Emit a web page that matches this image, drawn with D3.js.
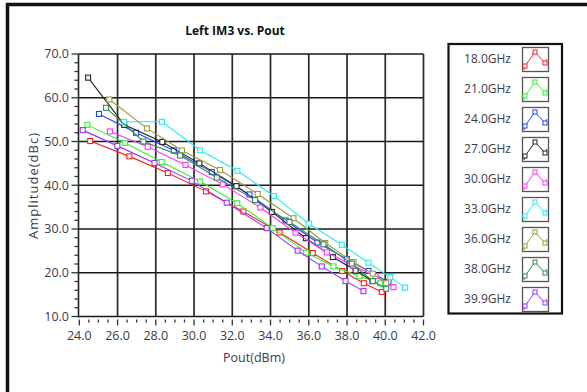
<!DOCTYPE html>
<html>
<head>
<meta charset="utf-8">
<script src="https://cdn.jsdelivr.net/npm/d3@7"></script>
<style>
  html, body { margin: 0; padding: 0; background: #fff; }
  svg { display: block; }
  text { font-family: "Open Sans", "Noto Sans", sans-serif; }
</style>
</head>
<body>
<div id="chart"></div>
<script>
// series labels + colours
const freqLabels = ['18.0GHz', '21.0GHz', '24.0GHz', '27.0GHz', '30.0GHz', '33.0GHz', '36.0GHz', '38.0GHz', '39.9GHz'];
const freqColors = ['#ff2020', '#33ee33', '#2244ff', '#222222', '#ff33ff', '#22eeee', '#9c9a3a', '#2e8b57', '#9933ff'];

// Pout (dBm) per series
const pout18 = [24.57, 26.62, 28.63, 30.63, 32.58, 34.47, 36.21, 37.75, 38.88, 39.82];
const pout21 = [24.42, 26.38, 28.31, 30.32, 32.26, 34.12, 35.86, 37.29, 38.65, 39.73];
const pout24 = [25.03, 26.97, 28.94, 30.93, 32.90, 34.79, 36.45, 37.99, 39.12, 40.17];
const pout27 = [24.46, 26.35, 28.34, 30.28, 32.22, 34.07, 35.85, 37.26, 38.45, 39.33];
const pout30 = [25.60, 27.58, 29.55, 31.50, 33.47, 35.31, 36.95, 38.30, 39.50, 40.43];
const pout33 = [26.33, 28.33, 30.32, 32.27, 34.19, 36.00, 37.73, 39.12, 40.26, 41.04];
const pout36 = [25.57, 27.54, 29.37, 31.36, 33.33, 35.20, 36.86, 38.34, 39.35, 40.05];
const pout38 = [25.40, 27.35, 29.27, 31.19, 33.19, 34.99, 36.77, 38.25, 39.35, 40.05];
const pout399 = [24.18, 25.99, 27.93, 29.88, 31.71, 33.80, 35.42, 36.68, 37.92, 38.86];

// Left IM3 amplitude (dBc) per series
const amp18 = [50.1, 46.6, 42.8, 38.6, 34.0, 29.2, 24.5, 20.4, 17.6, 15.6];
const amp21 = [53.8, 49.7, 45.3, 40.85, 35.9, 30.2, 24.6, 21.45, 19.2, 17.6];
const amp24 = [56.3, 52.0, 47.95, 43.0, 37.9, 31.95, 26.9, 23.1, 20.4, 17.9];
const amp27 = [64.6, 53.8, 49.9, 45.0, 39.8, 33.9, 27.9, 23.6, 20.5, 18.1];
const amp30 = [52.3, 48.8, 44.65, 40.2, 34.9, 29.15, 24.65, 21.65, 19.2, 16.7];
const amp33 = [54.5, 54.5, 48.0, 43.3, 37.5, 31.2, 26.4, 22.3, 19.0, 16.6];
const amp36 = [59.6, 53.0, 47.95, 43.5, 38.0, 32.45, 26.8, 22.45, 19.8, 17.6];
const amp38 = [57.7, 50.0, 46.8, 41.75, 36.6, 31.6, 26.5, 22.1, 18.1, 16.35];
const amp399 = [52.6, 49.0, 45.1, 41.0, 36.0, 30.2, 25.05, 21.45, 18.1, 15.8];

const poutSets = [pout18, pout21, pout24, pout27, pout30, pout33, pout36, pout38, pout399];
const ampSets = [amp18, amp21, amp24, amp27, amp30, amp33, amp36, amp38, amp399];

const xTicks = [24, 26, 28, 30, 32, 34, 36, 38, 40, 42];
const yTicks = [10, 20, 30, 40, 50, 60, 70];

const width = 587;
const height = 392;
const plot = { left: 78.5, right: 423.5, top: 54, bottom: 316.5 };
const textColor = '#3b3b48';

const svg = d3.select('#chart')
  .append('svg')
  .attr('width', width)
  .attr('height', height);

// outer frame (cut at right / bottom like the screenshot)
svg.append('rect')
  .attr('x', 7.5)
  .attr('y', 4.5)
  .attr('width', 640)
  .attr('height', 440)
  .style('fill', 'none')
  .style('stroke', '#111')
  .style('stroke-width', 3.5);

const x = d3.scaleLinear().domain([24, 42]).range([plot.left + 0.8, plot.right]);
const y = d3.scaleLinear().domain([10, 70]).range([plot.bottom, plot.top]);

// grid
const grid = svg.append('g').attr('class', 'grid');
grid.selectAll('.vline')
  .data(xTicks.slice(1))
  .enter()
  .append('line')
  .attr('x1', d => x(d))
  .attr('x2', d => x(d))
  .attr('y1', plot.top)
  .attr('y2', plot.bottom)
  .style('stroke', '#2a2a2a')
  .style('stroke-width', 1.7);

grid.selectAll('.hline')
  .data(yTicks)
  .enter()
  .append('line')
  .attr('x1', plot.left)
  .attr('x2', plot.right)
  .attr('y1', d => y(d))
  .attr('y2', d => y(d))
  .style('stroke', '#1a1a1a')
  .style('stroke-width', 1.7);

// plot left border
svg.append('line')
  .attr('x1', plot.left)
  .attr('x2', plot.left)
  .attr('y1', plot.top)
  .attr('y2', plot.bottom + 1)
  .style('stroke', '#222')
  .style('stroke-width', 1.6);

// y axis ticks
const yMinor = d3.range(10, 70.01, 2);
svg.selectAll('.ytick')
  .data(yMinor)
  .enter()
  .append('line')
  .attr('x1', d => (d % 10 === 0 ? plot.left - 7 : plot.left - 4))
  .attr('x2', plot.left)
  .attr('y1', d => y(d))
  .attr('y2', d => y(d))
  .style('stroke', '#333')
  .style('stroke-width', 1.3);

svg.selectAll('.ylabel')
  .data(yTicks)
  .enter()
  .append('text')
  .attr('x', plot.left - 9.5)
  .attr('y', d => y(d) + 4.3)
  .attr('text-anchor', 'end')
  .style('font-size', '12.5px')
  .style('fill', textColor)
  .text(d => d.toFixed(1));

// x axis ticks (detached just below the plot)
const xMinor = d3.range(24, 42.01, 0.5);
svg.selectAll('.xtick')
  .data(xMinor)
  .enter()
  .append('line')
  .attr('x1', d => x(d))
  .attr('x2', d => x(d))
  .attr('y1', plot.bottom + 3)
  .attr('y2', d => (d % 2 === 0 ? plot.bottom + 9 : plot.bottom + 6))
  .style('stroke', '#333')
  .style('stroke-width', 1.3);

svg.selectAll('.xlabel')
  .data(xTicks)
  .enter()
  .append('text')
  .attr('x', d => x(d))
  .attr('y', plot.bottom + 23.5)
  .attr('text-anchor', 'middle')
  .style('font-size', '12.5px')
  .style('fill', textColor)
  .text(d => d.toFixed(1));

// titles
svg.append('text')
  .attr('x', 235)
  .attr('y', 35)
  .attr('text-anchor', 'middle')
  .style('font-size', '12px')
  .style('font-weight', 'bold')
  .style('fill', '#111')
  .text('Left IM3 vs. Pout');

svg.append('text')
  .attr('x', 254)
  .attr('y', 362)
  .attr('text-anchor', 'middle')
  .style('font-size', '12.5px')
  .style('fill', textColor)
  .text('Pout(dBm)');

svg.append('text')
  .attr('transform', 'translate(38,186) rotate(-90)')
  .attr('text-anchor', 'middle')
  .attr('textLength', 106)
  .attr('lengthAdjust', 'spacing')
  .style('font-size', '13px')
  .style('fill', textColor)
  .text('Amplitude(dBc)');

// series
const line = d3.line().x(d => x(d[0])).y(d => y(d[1]));
const seriesG = svg.append('g').attr('class', 'series');
freqLabels.forEach((label, i) => {
  const pts = poutSets[i].map((p, k) => [p, ampSets[i][k]]);
  const g = seriesG.append('g');
  g.append('path')
    .datum(pts)
    .attr('d', line)
    .style('fill', 'none')
    .style('stroke', freqColors[i])
    .style('stroke-width', 1.1);
  g.selectAll('rect')
    .data(pts)
    .enter()
    .append('rect')
    .attr('x', d => x(d[0]) - 2.5)
    .attr('y', d => y(d[1]) - 2.5)
    .attr('width', 5)
    .attr('height', 5)
    .style('fill', '#fff')
    .style('stroke', freqColors[i])
    .style('stroke-width', 1.1);
});

// legend
const legend = svg.append('g').attr('class', 'legend');
legend.append('rect')
  .attr('x', 448.5)
  .attr('y', 44)
  .attr('width', 113.5)
  .attr('height', 269.5)
  .style('fill', '#fff')
  .style('stroke', '#111')
  .style('stroke-width', 2.2);

const glyph = [[3, 19], [13, 5], [23, 16]];
freqLabels.forEach((label, i) => {
  const top = 47 + i * 30;
  legend.append('text')
    .attr('x', 511)
    .attr('y', top + 16)
    .attr('text-anchor', 'end')
    .style('font-size', '12px')
    .style('fill', textColor)
    .text(label);

  const sw = legend.append('g').attr('transform', `translate(522,${top})`);
  sw.append('rect')
    .attr('x', 0.5)
    .attr('y', 0.5)
    .attr('width', 26)
    .attr('height', 24)
    .style('fill', '#fff')
    .style('stroke', '#555')
    .style('stroke-width', 1.3);
  sw.append('path')
    .attr('d', d3.line()([[2, 23], ...glyph, [25, 12]]))
    .style('fill', 'none')
    .style('stroke', freqColors[i])
    .style('stroke-width', 1);
  sw.selectAll('.mk')
    .data(glyph)
    .enter()
    .append('rect')
    .attr('x', d => d[0] - 2)
    .attr('y', d => d[1] - 2)
    .attr('width', 4)
    .attr('height', 4)
    .style('fill', '#fff')
    .style('stroke', freqColors[i])
    .style('stroke-width', 1);
});
</script>
</body>
</html>
